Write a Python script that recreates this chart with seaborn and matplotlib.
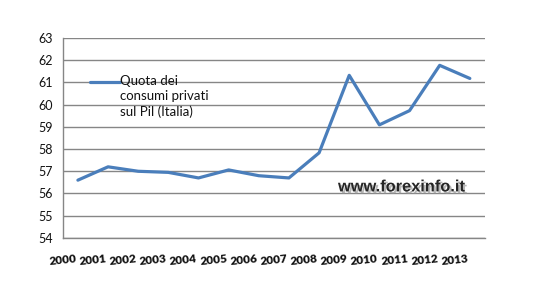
import numpy as np
import pandas as pd
import matplotlib
matplotlib.use("Agg")
import matplotlib.pyplot as plt
import matplotlib.patheffects as pe
import seaborn as sns

years = ["2000", "2001", "2002", "2003", "2004", "2005", "2006",
         "2007", "2008", "2009", "2010", "2011", "2012", "2013"]
values = [56.6, 57.2, 57.0, 56.95, 56.7, 57.06, 56.8,
          56.7, 57.83, 61.32, 59.09, 59.73, 61.77, 61.18]
series_name = "Quota dei consumi privati sul Pil (Italia)"

sns.set_style("white")
plt.rcParams["font.family"] = ["Lato", "DejaVu Sans"]

df = pd.DataFrame({"pos": np.arange(len(years)) + 0.5, "value": values})

fig = plt.figure(figsize=(5.37, 2.97), dpi=100)
ax = fig.add_axes([0.117, 0.199, 0.786, 0.673])
line_color = "#4a7ebb"
sns.lineplot(data=df, x="pos", y="value", ax=ax, color=line_color, linewidth=2.3)

ax.set_xlim(0, len(years))
ax.set_ylim(54, 63)
ax.set_yticks(range(54, 64))
ax.set_yticklabels([str(v) for v in range(54, 64)], fontsize=9, color="#111111")
ax.set_xticks(np.arange(len(years) + 1))
ax.set_xticklabels(years + [""], fontsize=8.5, fontweight="heavy", rotation=6,
                   rotation_mode="anchor", ha="center", va="center", color="#111111")
ax.set_xlabel("")
ax.set_ylabel("")

grid_c = "#868686"
ax.yaxis.grid(True, color=grid_c, linewidth=1)
ax.xaxis.grid(False)
for s in ["top", "right"]:
    ax.spines[s].set_visible(False)
for s in ["left", "bottom"]:
    ax.spines[s].set_color(grid_c)
    ax.spines[s].set_linewidth(1)
ax.tick_params(axis="x", length=4, color=grid_c, direction="out", pad=12)
ax.tick_params(axis="y", length=3, color=grid_c, direction="out", pad=4)

# legend
ax.plot([0.065, 0.135], [0.78, 0.78], transform=ax.transAxes, color=line_color,
        linewidth=2.3, clip_on=False)
ax.text(0.135, 0.815, "Quota dei\nconsumi privati\nsul Pil (Italia)", transform=ax.transAxes,
        fontsize=9.5, va="top", ha="left", linespacing=1.3, color="#111111")

# watermark
ax.text(0.652, 0.255, "www.forexinfo.it", transform=ax.transAxes, fontsize=11.8,
        fontweight="bold", family=["Liberation Sans", "DejaVu Sans"], va="center", ha="left",
        path_effects=[pe.withSimplePatchShadow(offset=(1.5, -1.5), shadow_rgbFace="#999999", alpha=0.7)])

fig.savefig("out.png", dpi=100)
